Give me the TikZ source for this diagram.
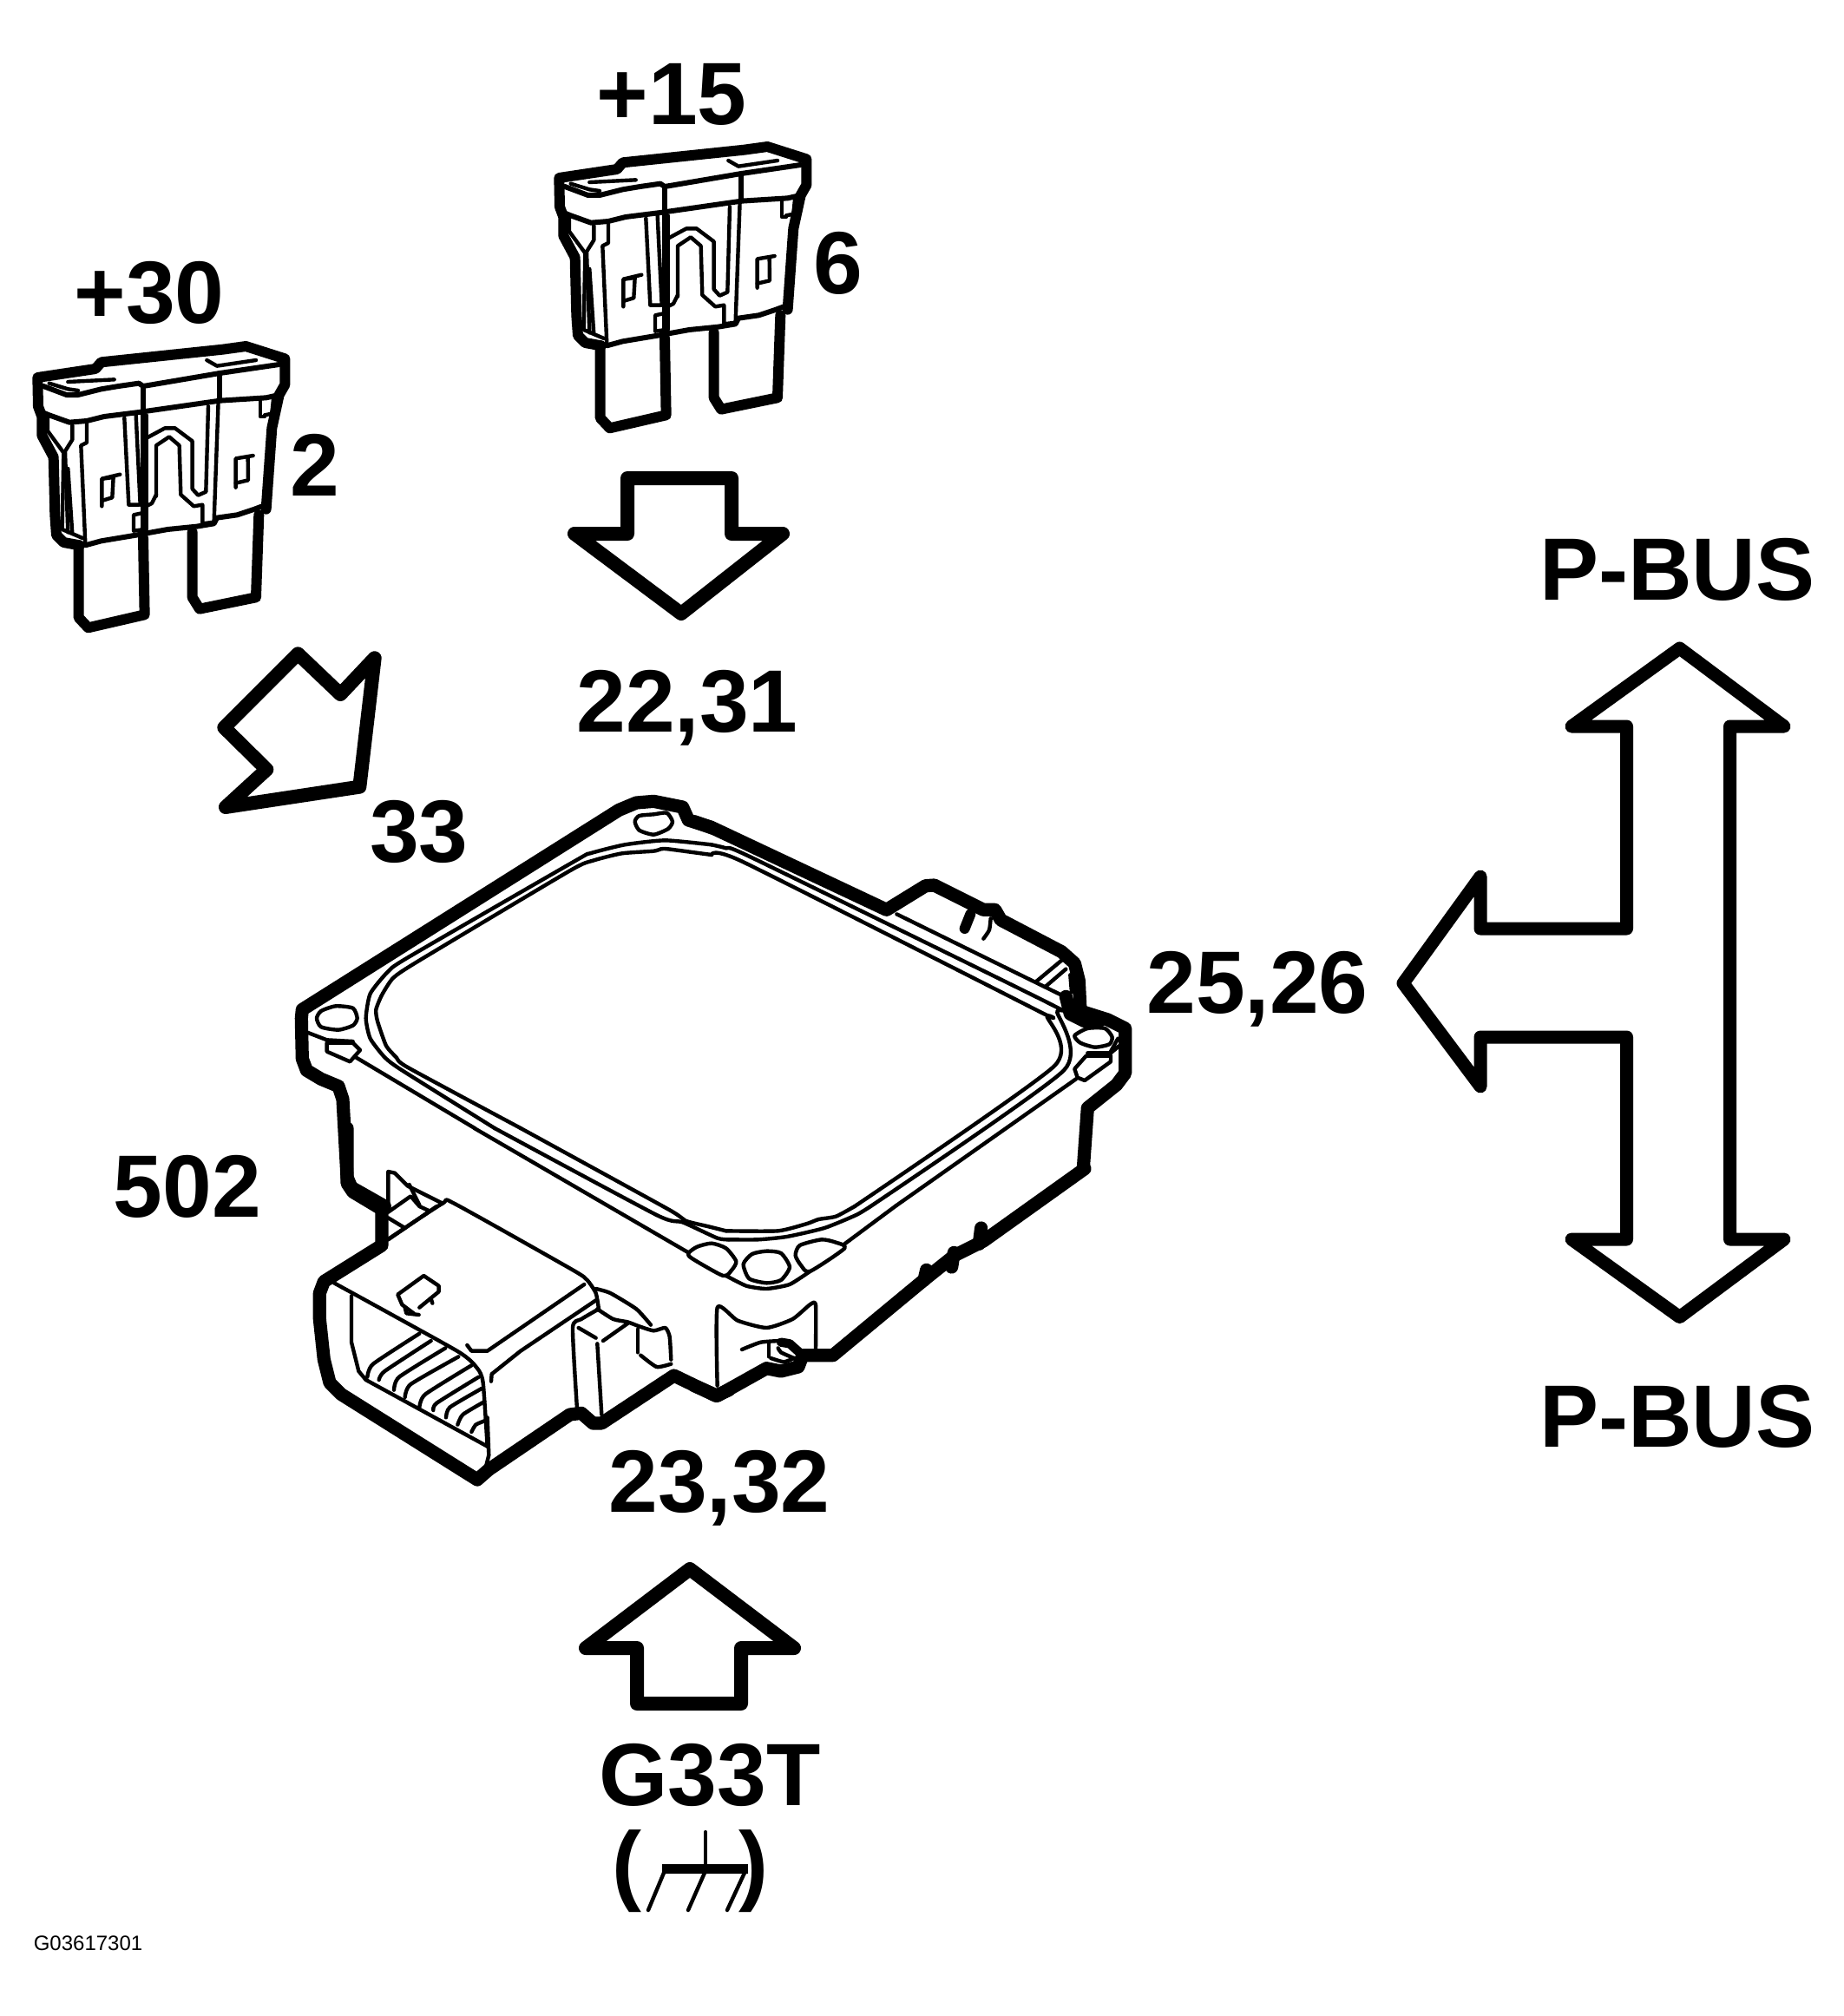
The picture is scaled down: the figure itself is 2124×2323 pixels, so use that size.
\documentclass[tikz,border=0pt]{standalone}
\usepackage{fontspec}
\setmainfont{Liberation Sans}
\tikzset{
  lab/.style={font=\fontsize{25.5}{30}\selectfont\bfseries,inner sep=0pt,anchor=base,text=black},
  arw/.style={draw=black,line width=4pt,line join=round,line cap=round},
  arwt/.style={draw=black,line width=3.75pt,line join=round,line cap=round},
  ft/.style={draw=black,line width=3pt,line join=round,line cap=round},
  mt/.style={draw=black,line width=3.8pt,line join=round,line cap=round},
  md/.style={draw=black,line width=1.5pt,line join=round,line cap=round},
  tn/.style={draw=black,line width=1.1pt,line join=round,line cap=round},
  sm/.style={smooth,tension=.35},
  zoomed/.style={shift={#1},x=.083333pt,y=-.083333pt}
}
\newcommand{\drawfuse}[1]{%
\begin{scope}[zoomed={#1}]
 % terminals
 \draw[ft] plot coordinates {(212,745) (212,995) (245,1030) (440,985) (435,720)};
 \draw[ft] plot coordinates {(835,640) (825,925) (630,965) (605,925) (605,700)};
 % body outline
 \draw[ft] plot coordinates {(860,620) (880,340) (905,225) (925,190) (925,100) (790,57) (710,68) (290,112) (270,135) (70,165) (72,265) (85,300) (85,365) (125,440) (130,640) (135,710) (160,735) (215,745)};
 \draw[md] plot coordinates {(90,195) (170,225) (210,225) (290,205) (350,195) (420,185) (435,195) (700,150) (905,120)};
 \draw[tn] plot coordinates {(175,180) (335,172)};
 \draw[tn] plot coordinates {(110,185) (175,205) (210,210)};
 \draw[tn] plot coordinates {(655,105) (690,125) (825,105)};
 \draw[md] plot coordinates {(700,150) (700,240)};
 \draw[line width=1.6pt] plot coordinates {(435,195) (435,700)};
 \draw[md] plot coordinates {(85,285) (110,295) (180,320) (240,315) (300,300) (420,285) (700,245) (860,235) (905,225)};
 \draw[tn] plot coordinates {(695,245) (680,660)};
 \draw[tn] plot coordinates {(660,265) (652,560) (625,572) (605,550) (605,385) (545,340) (510,340) (445,375)};
 \draw[tn] plot coordinates {(480,575) (480,400) (525,370) (560,400) (565,570) (610,610) (640,605) (640,670) (680,665)};
 \draw[tn] plot coordinates {(370,305) (385,605) (420,605)};
 \draw[tn] plot coordinates {(410,295) (425,605)};
 \draw[tn] plot coordinates {(445,295) (445,690)};
 \draw[tn] plot coordinates {(480,570) (465,600) (445,610)};
 \draw[tn] plot coordinates {(440,632) (402,640) (402,695) (440,690)};
 \draw[md] plot coordinates {(235,745) (290,730) (410,710) (520,690) (620,680) (680,670) (690,650) (760,640) (820,620) (860,605)};
 \draw[tn] plot coordinates {(105,305) (105,350) (160,425) (155,690) (225,720)};
 \draw[tn] plot coordinates {(190,330) (190,380) (165,420) (175,700)};
 \draw[tn] plot coordinates {(240,325) (240,390) (220,400) (235,740)};
 \draw[tn] plot coordinates {(175,480) (190,705)};
 \draw[tn] plot coordinates {(355,500) (292,515) (292,610)};
 \draw[tn] plot coordinates {(295,515) (332,510) (328,580) (295,590)};
 \draw[tn] plot coordinates {(815,435) (755,445) (755,545)};
 \draw[tn] plot coordinates {(797,445) (798,520) (755,530)};
 \draw[tn] plot coordinates {(840,240) (840,300) (855,300)};
 \draw[tn] plot coordinates {(885,240) (880,290) (855,295)};
\end{scope}}
\begin{document}
\begin{tikzpicture}[x=.25pt,y=-.25pt]
\path[fill=white,use as bounding box] (0,0) rectangle (2124,2323);
% labels
\node[lab] (l15) at (774,143) {+15};
\node[lab] (l30) at (172,372) {+30};
\node[lab] (l2) at (363,571) {2};
\node[lab] (l6) at (966,338) {6};
\node[lab] (l2231) at (792,843) {22,31};
\node[lab] (l33) at (483,993) {33};
\node[lab] (l2526) at (1449,1167) {25,26};
\node[lab] (l502) at (216,1402) {502};
\node[lab] (l2332) at (829,1742) {23,32};
\node[lab] (lpa) at (1933,691) {P-BUS};
\node[lab] (lpb) at (1933,1667) {P-BUS};
\node[lab] (lg) at (818,2080) {G33T};
\begin{scope}
 \clip (690,2108) rectangle (900,2203);
 \node[lab] (lpo) at (722,2182) {(};
 \node[lab] (lpc) at (868,2182) {)};
\end{scope}
\node[font=\fontsize{6}{7}\selectfont,inner sep=0pt,anchor=base west] (code) at (38,2247) {G03617301};
% ground
\draw[line width=2.75pt] (763,2153) -- (862,2153);
\draw[line width=1.1pt,line cap=round] (813,2111) -- (813,2153);
\draw[line width=1.1pt,line cap=round] (765,2158) -- (747,2201);
\draw[line width=1.1pt,line cap=round] (812,2158) -- (793,2201);
\draw[line width=1.1pt,line cap=round] (858,2158) -- (838,2201);
% fuses
\drawfuse{(20,380)}
\drawfuse{(621,150)}
% block arrows
\draw[arw] (723,551) -- (843,551) -- (843,615) -- (902,615) -- (785,707) -- (662,615) -- (723,615) -- cycle;
\draw[arw] (734,1963) -- (854,1963) -- (854,1899) -- (915,1899) -- (795,1808) -- (675,1899) -- (734,1899) -- cycle;
\begin{scope}[zoomed={(230,720)}]
 \draw[line width=4pt,line join=round] (340,100) -- (487,240) -- (605,115) -- (553,560) -- (90,630) -- (232,500) -- (85,355) -- cycle;
\end{scope}
\draw[arwt] (1874.5,1070) -- (1874.5,837) -- (1811,837) -- (1935.6,747) -- (2056,837) -- (1993.5,837) -- (1993.5,1428) -- (2056,1428) -- (1935.6,1517.6) -- (1811,1428) -- (1874.5,1428) -- (1874.5,1195) -- (1706,1195) -- (1706,1252) -- (1617,1133) -- (1706,1010) -- (1706,1070) -- cycle;
% module: upper-left region
\begin{scope}[zoomed={(320,890)}]
 \draw[mt] plot coordinates {(1500,190) (1420,165) (1400,120) (1300,100) (1240,105) (1180,130) (85,820) (82,850) (85,990) (100,1030) (150,1060) (210,1085) (225,1130) (240,1400) (255,1435) (370,1500)};
 \draw[tn] plot[sm] coordinates {(1500,250) (1340,235) (1200,250) (1080,280) (1030,305) (450,640) (380,690) (320,765) (305,850) (320,920) (370,985) (430,1030) (750,1230)};
 \draw[tn] plot[sm] coordinates {(1500,285) (1350,265) (1325,265) (1300,272) (1190,280) (1090,305) (1010,340) (490,650) (400,710) (360,770) (340,820) (345,860) (375,945) (410,985) (450,1020) (840,1230)};
 \draw[tn] (270,985) -- (681,1230);
 \draw[tn] plot[smooth cycle,tension=.4] coordinates {(1235,170) (1250,150) (1300,145) (1345,140) (1365,170) (1350,195) (1300,215) (1250,200)};
 \draw[tn] plot[smooth cycle,tension=.4] coordinates {(135,850) (150,825) (200,808) (260,815) (275,850) (260,875) (210,890) (150,880)};
 \draw[tn] (170,935) -- (260,935) -- (285,960) -- (250,1000) -- (170,965) -- cycle;
 \draw[tn] plot coordinates {(105,900) (170,925) (260,930)};
\end{scope}
% module: upper-right region
\begin{scope}[zoomed={(800,890)}]
 \draw[mt] plot coordinates {(0,170) (70,195) (665,475) (800,392) (830,390) (1000,475) (1040,475) (1060,510) (1270,620) (1315,660) (1330,720) (1335,825) (1430,855) (1490,885) (1490,1040) (1460,1080) (1360,1160) (1345,1370)};
 \draw[mt] plot coordinates {(1285,775) (1300,835) (1350,860) (1400,860)};
 \draw[line width=3pt,line cap=round] (955,490) -- (935,540);
 \draw[tn] plot[sm] coordinates {(1025,505) (1020,545) (1000,575)};
 \draw[tn] plot[sm] coordinates {(60,250) (110,262) (200,295) (1220,795) (1255,830) (1278,1030) (610,1500)};
 \draw[tn] plot[sm] coordinates {(60,285) (170,310) (1190,825) (1220,845) (1245,1015) (555,1500)};
 \draw[tn] (1320,1060) -- (695,1500);
 \draw[tn] (700,490) -- (1270,770);
 \draw[tn] (1180,725) -- (1270,650);
 \draw[tn] (1215,740) -- (1285,680);
 \draw[tn] (1300,700) -- (1305,760);
 \draw[tn] plot[smooth cycle,tension=.4] coordinates {(1315,910) (1360,885) (1420,885) (1445,915) (1435,940) (1385,950) (1335,935)};
 \draw[tn] (1315,1025) -- (1355,980) -- (1440,980) -- (1440,1000) -- (1350,1065) -- (1325,1055) -- cycle;
 \draw[tn] plot coordinates {(1360,970) (1440,970) (1470,945)};
 \draw[tn] (1465,920) -- (1440,965);
\end{scope}
% module: lower-left region (connector)
\begin{scope}[zoomed={(340,1300)}]
 \draw[mt] plot coordinates {(180,0) (180,190) (200,220) (300,280) (300,405) (100,530) (85,570) (85,660) (100,800) (120,880) (160,920) (590,1190) (630,1215) (670,1180) (950,990) (990,985) (1030,1020) (1060,1020) (1310,855) (1455,925) (1500,905)};
 \draw[tn] plot coordinates {(620,0) (1360,430)};
 \draw[tn] plot[sm] coordinates {(690,0) (1250,300) (1340,325) (1460,380) (1500,385)};
 \draw[tn] plot[sm] coordinates {(780,0) (1290,280) (1350,320) (1430,340) (1490,355)};
 \draw[tn] plot[smooth cycle,tension=.4] coordinates {(1360,432) (1390,410) (1440,398) (1490,415) (1525,460) (1510,490) (1480,510) (1372,450)};
 \draw[tn] plot[sm] coordinates {(320,385) (510,260) (550,260) (960,490) (1010,525) (1040,570) (1050,625)};
 \draw[tn] plot[sm] coordinates {(135,535) (560,770) (630,830) (650,880) (665,1100)};
 \draw[tn] plot coordinates {(1000,540) (665,770) (610,770) (595,750)};
 \draw[tn] plot coordinates {(1040,595) (780,770) (680,850) (678,875)};
 \draw[tn] plot coordinates {(195,580) (195,740) (220,840) (245,870) (665,1100)};
 \draw[tn] plot coordinates {(665,1000) (670,1130) (660,1170)};
 \draw[tn] plot[sm] coordinates {(430,710) (270,815) (250,860)};
 \draw[tn] plot[sm] coordinates {(470,735) (310,840) (290,870)};
 \draw[tn] plot[sm] coordinates {(520,760) (360,860) (342,905)};
 \draw[tn] plot[sm] coordinates {(565,790) (400,885) (380,930)};
 \draw[tn] plot[sm] coordinates {(610,820) (450,920) (430,965)};
 \draw[tn] plot[sm] coordinates {(635,860) (490,950) (478,975)};
 \draw[tn] plot[sm] coordinates {(645,900) (535,965) (522,1000)};
 \draw[tn] plot[sm] coordinates {(655,945) (580,990) (562,1025)};
 \draw[tn] plot[sm] coordinates {(660,1010) (625,1025) (610,1050)};
 \draw[tn] plot coordinates {(410,640) (370,610) (355,575) (445,510) (497,545) (497,565) (430,620)};
 \draw[tn] plot coordinates {(380,620) (385,640) (428,645)};
 \draw[tn] (470,590) -- (475,605);
 \draw[tn] plot coordinates {(322,280) (322,150) (345,155) (390,200) (510,260)};
 \draw[tn] plot coordinates {(322,290) (400,235) (430,270) (462,285)};
 \draw[tn] (395,195) -- (430,265);
 \draw[tn] (322,310) -- (380,345);
 \draw[tn] (322,385) -- (490,270);
 \draw[tn] plot[sm] coordinates {(1050,625) (990,660) (960,690) (975,970)};
 \draw[tn] (980,690) -- (1040,725);
 \draw[tn] (1045,745) -- (1060,990);
 \draw[tn] (1065,735) -- (1150,675);
 \draw[tn] plot[sm] coordinates {(1045,625) (1100,660) (1150,670) (1190,685) (1240,700) (1280,690) (1295,720) (1300,800)};
 \draw[tn] plot[sm] coordinates {(1040,555) (1090,570) (1180,625) (1230,680)};
 \draw[tn] (1185,695) -- (1185,775);
 \draw[tn] plot[sm] coordinates {(1195,785) (1250,825) (1300,815)};
\end{scope}
% module: lower-right region
\begin{scope}[zoomed={(800,1300)}]
 \draw[mt] plot coordinates {(1350,140) (1000,390) (900,440) (800,520) (480,785) (375,785) (360,825) (300,840) (250,830) (80,925) (0,890)};
 \draw[mt] (803,490) -- (795,525);
 \draw[mt] (898,430) -- (890,480);
 \draw[mt] (992,345) -- (985,400);
 \draw[line width=2.6pt,line cap=round,line join=round] plot coordinates {(300,740) (330,745) (375,785)};
 \draw[tn] plot[sm] coordinates {(555,270) (490,305) (430,315) (390,330) (290,355) (110,355)};
 \draw[tn] plot[sm] coordinates {(610,270) (560,300) (450,345) (320,375) (220,385) (120,385)};
 \draw[tn] (695,270) -- (520,400);
 \draw[tn] plot[smooth cycle,tension=.4] coordinates {(350,440) (365,405) (440,385) (490,395) (520,415) (400,495) (370,475)};
 \draw[tn] plot[smooth cycle,tension=.4] coordinates {(170,470) (200,435) (250,425) (300,432) (330,480) (300,525) (250,535) (190,520)};
 \draw[tn] plot[sm] coordinates {(110,510) (180,545) (250,555) (330,540) (400,495)};
 \draw[tn] plot[sm] coordinates {(80,890) (80,620) (150,665) (250,690) (340,660) (400,610) (420,610) (420,765)};
 \draw[tn] plot[sm] coordinates {(165,765) (230,740) (300,735)};
 \draw[tn] (258,745) -- (258,790);
 \draw[tn] plot[sm] coordinates {(290,760) (300,775) (345,795)};
 \draw[tn] plot[sm] coordinates {(265,795) (310,808) (345,795)};
\end{scope}
\end{tikzpicture}
\end{document}
